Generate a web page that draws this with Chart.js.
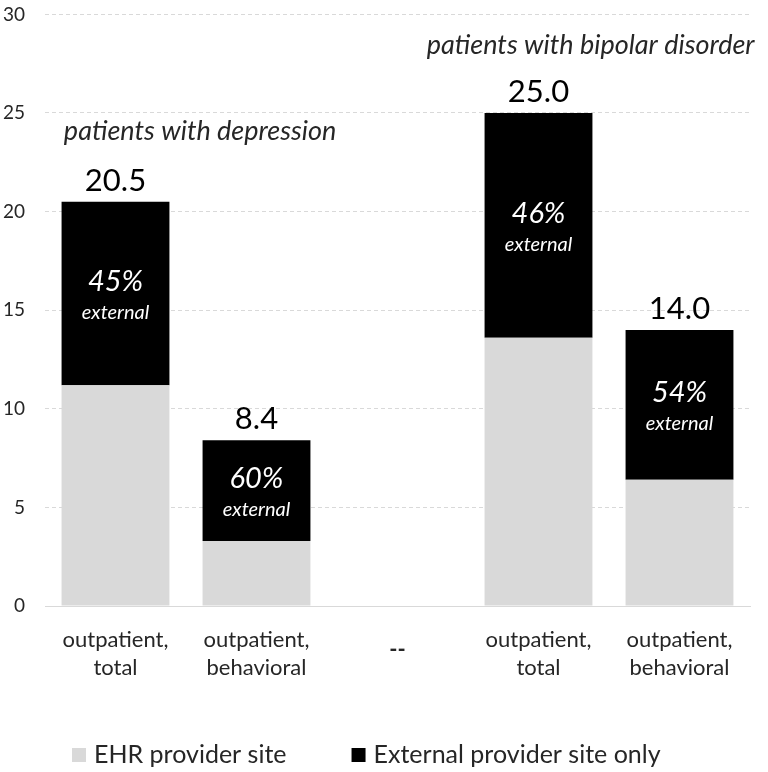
<!DOCTYPE html>
<html>
<head>
<meta charset="utf-8">
<script src="https://cdn.jsdelivr.net/npm/chart.js@4/dist/chart.umd.min.js"></script>
<style>
html,body{margin:0;padding:0;background:#fff;}
#wrap{width:768px;height:772px;}
</style>
</head>
<body>
<div id="wrap"><canvas id="c" width="768" height="772"></canvas></div>
<script>
const categories = [["outpatient,","total"],["outpatient,","behavioral"],"--",["outpatient,","total"],["outpatient,","behavioral"]];
const ehrValues = [11.2, 3.3, null, 13.6, 6.4];
const externalValues = [9.3, 5.1, null, 11.4, 7.6];
const totalLabels = ["20.5", "8.4", null, "25.0", "14.0"];
const pctLabels = ["45%", "60%", null, "46%", "54%"];
const subLabel = "external";
const groupTitles = ["patients with depression", "patients with bipolar disorder"];
const groupTitleX = [0.6, 3.37];
const groupTitleY = [24.05, 28.45];
const yTicks = [0, 5, 10, 15, 20, 25, 30];

const FONT = "Lato, 'Open Sans', sans-serif";

const annot = {
  id: 'annot',
  afterDatasetsDraw(chart) {
    const ctx = chart.ctx;
    const xs = chart.scales.x, ys = chart.scales.y;
    const m0 = chart.getDatasetMeta(0), m1 = chart.getDatasetMeta(1);
    ctx.save();
    ctx.textAlign = 'center';
    ctx.textBaseline = 'middle';
    for (let i = 0; i < categories.length; i++) {
      if (totalLabels[i] == null) continue;
      const top = m1.data[i];
      const bot = m0.data[i];
      ctx.fillStyle = '#000';
      ctx.font = "31px " + FONT;
      ctx.fillText(totalLabels[i], top.x, top.y - 21);
      const c = (top.y + bot.y) / 2;
      ctx.fillStyle = '#fff';
      ctx.font = "italic 29px " + FONT;
      ctx.fillText(pctLabels[i], top.x, c - 12);
      ctx.font = "italic 20px " + FONT;
      ctx.fillText(subLabel, top.x, c + 19);
    }
    ctx.fillStyle = '#262626';
    ctx.font = "italic 27px " + FONT;
    for (let g = 0; g < groupTitles.length; g++) {
      ctx.fillText(groupTitles[g], xs.getPixelForValue(groupTitleX[g]), ys.getPixelForValue(groupTitleY[g]));
    }
    ctx.restore();
  },
  afterDraw(chart) {
    // legend built from the datasets
    const ctx = chart.ctx;
    ctx.save();
    ctx.font = "25px " + FONT;
    ctx.textAlign = 'left';
    ctx.textBaseline = 'middle';
    let x = 72;
    const y = 755;
    chart.data.datasets.forEach(ds => {
      ctx.fillStyle = ds.backgroundColor;
      ctx.fillRect(x, y - 7, 14, 14);
      ctx.fillStyle = '#262626';
      ctx.fillText(ds.label, x + 22, y);
      x += 22 + ctx.measureText(ds.label).width + 65;
    });
    ctx.restore();
  }
};

new Chart(document.getElementById('c'), {
  type: 'bar',
  data: {
    labels: categories,
    datasets: [
      { label: 'EHR provider site', data: ehrValues, backgroundColor: '#d9d9d9', borderWidth: 0, categoryPercentage: 1, barPercentage: 0.765 },
      { label: 'External provider site only', data: externalValues, backgroundColor: '#000000', borderWidth: 0, categoryPercentage: 1, barPercentage: 0.765 }
    ]
  },
  options: {
    responsive: false,
    animation: false,
    layout: { padding: { top: 0, right: 18, left: 0, bottom: 0 } },
    plugins: {
      tooltip: { enabled: false },
      legend: { display: false }
    },
    scales: {
      x: {
        stacked: true,
        afterFit(scale) { scale.height = 166; },
        grid: { display: false, drawTicks: false },
        border: { display: true, color: '#d9d9d9', width: 1 },
        ticks: {
          color: '#262626', padding: 20, maxRotation: 0, autoSkip: false,
          font: (ctx) => categories[ctx.index] === '--'
            ? { family: FONT, size: 22, lineHeight: 2.2, weight: 'bold' }
            : { family: FONT, size: 22, lineHeight: 1.27, weight: 'normal' }
        }
      },
      y: {
        stacked: true,
        min: 0, max: 30,
        afterFit(scale) { scale.width = 45; },
        afterBuildTicks(scale) { scale.ticks = yTicks.map(v => ({ value: v })); },
        grid: { color: '#d9d9d9', drawTicks: true, tickLength: 17, tickColor: 'rgba(0,0,0,0)', lineWidth: 1 },
        border: { display: false, dash: [4, 3] },
        ticks: { color: '#262626', padding: 3, font: { family: FONT, size: 19 } }
      }
    }
  },
  plugins: [annot]
});
</script>
</body>
</html>
